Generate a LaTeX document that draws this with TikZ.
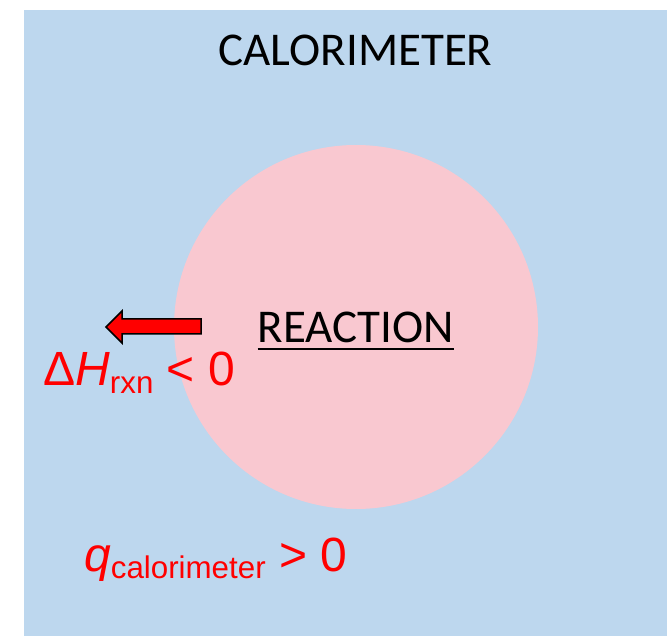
\documentclass[tikz,border=0pt]{standalone}
\usepackage{fontspec}
\setmainfont{Carlito}
\newfontfamily\arialfont{Liberation Sans}
\definecolor{calblue}{RGB}{189,215,238}
\definecolor{rxnpink}{RGB}{249,200,208}
\tikzset{
  bigtext/.style={font=\fontsize{47}{56}\selectfont, inner sep=0pt, anchor=base},
  redlabel/.style={text=red, font=\arialfont\fontsize{48}{57}\selectfont, inner sep=0pt, anchor=base west},
}
\newcommand{\subtxt}[1]{\raisebox{-7.5pt}{\fontsize{31.3}{37}\selectfont #1}}

\begin{document}
\begin{tikzpicture}[x=1pt,y=-1pt]
\useasboundingbox (0,0) rectangle (667,636);
\fill[calblue] (24,10) rectangle (667,636);
\node[circle, fill=rxnpink, minimum size=364pt, inner sep=0pt] (rxn) at (356,327) {};
\node[bigtext] (calor) at (355.5,66) {CALORIMETER};
\node[bigtext] (react) at (356,343) {REACTION};
\draw[line width=2pt] ([yshift=-6pt]react.base west) -- ([yshift=-6pt]react.base east);
\filldraw[fill=red, draw=black, line width=1.5pt, line join=miter] (201,319) -- (122,319) -- (122,311) -- (106,327) -- (122,343) -- (122,334) -- (201,334) -- cycle;
\node[redlabel] (dh) at (43,386) {Δ\textit{H}\subtxt{rxn} < 0};
\node[redlabel] (qcal) at (84,571) {\textit{q}\subtxt{calorimeter} > 0};
\end{tikzpicture}
\end{document}
